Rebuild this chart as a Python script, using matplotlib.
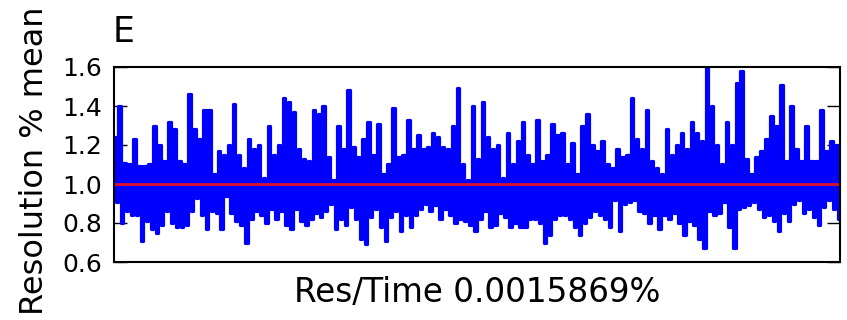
import matplotlib
matplotlib.use("Agg")
import matplotlib.pyplot as plt
import numpy as np

# Peak / trough of the ratio trace, read every ~5 px along the axis
upper_env = [
    1.24, 1.40, 1.11, 1.10, 1.23, 1.09, 1.09, 1.10, 1.30, 1.20, 1.12, 1.32, 1.28, 1.12, 1.10, 1.46, 1.28, 1.23,
    1.38, 1.38, 1.05, 1.17, 1.15, 1.20, 1.41, 1.15, 1.08, 1.23, 1.18, 1.20, 1.03, 1.30, 1.15, 1.20, 1.44, 1.42,
    1.37, 1.18, 1.13, 1.12, 1.38, 1.36, 1.40, 1.14, 1.02, 1.30, 1.18, 1.48, 1.19, 1.14, 1.23, 1.32, 1.15, 1.31,
    1.05, 1.10, 1.39, 1.14, 1.15, 1.33, 1.18, 1.25, 1.18, 1.19, 1.26, 1.24, 1.19, 1.18, 1.30, 1.49, 1.10, 1.02,
    1.40, 1.13, 1.42, 1.24, 1.18, 1.20, 1.03, 1.26, 1.10, 1.22, 1.32, 1.15, 1.10, 1.33, 1.12, 1.15, 1.31, 1.25,
    1.26, 1.10, 1.21, 1.05, 1.30, 1.36, 1.20, 1.17, 1.22, 1.10, 1.08, 1.18, 1.14, 1.15, 1.44, 1.23, 1.18, 1.38,
    1.12, 1.08, 1.05, 1.28, 1.15, 1.20, 1.26, 1.18, 1.32, 1.26, 1.22, 1.60, 1.40, 1.20, 1.10, 1.32, 1.20, 1.52,
    1.58, 1.13, 1.05, 1.14, 1.17, 1.23, 1.35, 1.30, 1.51, 1.12, 1.40, 1.18, 1.12, 1.30, 1.12, 1.12, 1.38, 1.17,
    1.22, 1.20,
]
lower_env = [
    0.91, 0.80, 0.86, 0.84, 0.84, 0.71, 0.81, 0.77, 0.75, 0.79, 0.86, 0.80, 0.78, 0.78, 0.79, 0.86, 0.93, 0.84,
    0.77, 0.86, 0.85, 0.77, 0.94, 0.85, 0.81, 0.79, 0.70, 0.82, 0.86, 0.84, 0.80, 0.87, 0.82, 0.86, 0.79, 0.77,
    0.87, 0.81, 0.79, 0.82, 0.85, 0.83, 0.86, 0.90, 0.77, 0.82, 0.79, 0.88, 0.82, 0.72, 0.69, 0.83, 0.87, 0.78,
    0.71, 0.83, 0.86, 0.76, 0.84, 0.78, 0.84, 0.87, 0.90, 0.86, 0.89, 0.82, 0.87, 0.84, 0.80, 0.82, 0.81, 0.79,
    0.76, 0.82, 0.86, 0.78, 0.79, 0.85, 0.83, 0.78, 0.80, 0.78, 0.78, 0.82, 0.82, 0.80, 0.70, 0.74, 0.82, 0.84,
    0.84, 0.82, 0.78, 0.74, 0.80, 0.83, 0.86, 0.84, 0.82, 0.78, 0.92, 0.76, 0.90, 0.91, 0.92, 0.86, 0.85, 0.80,
    0.84, 0.77, 0.84, 0.82, 0.85, 0.80, 0.74, 0.81, 0.79, 0.72, 0.67, 0.86, 0.84, 0.85, 0.91, 0.78, 0.67, 0.87,
    0.88, 0.89, 0.91, 0.87, 0.83, 0.84, 0.81, 0.76, 0.85, 0.81, 0.90, 0.92, 0.85, 0.87, 0.83, 0.79, 0.88, 0.92,
    0.87, 0.82,
]
mean_level = 1.0
y_ticks = [0.6, 0.8, 1.0, 1.2, 1.4, 1.6]
panel_label = "E"
x_label = "Res/Time 0.0015869%"
y_label = "Resolution % mean"

# alternate peak and trough so the trace zig-zags like the raw series
trace = np.column_stack((upper_env, lower_env)).ravel()
x = np.arange(len(trace))

fig = plt.figure(figsize=(8.47, 3.2), dpi=100)
ax = fig.add_axes([113.5 / 847, 58 / 320, 726.5 / 847, 195 / 320])

ax.plot(x, trace, color="#0000ff", linewidth=2.3, drawstyle="steps-mid")
ax.axhline(mean_level, color="#e0102a", linewidth=2.0)

ax.set_xlim(-0.5, len(trace) - 0.5)
ax.set_ylim(0.6, 1.6)
ax.set_yticks(y_ticks)
ax.set_yticklabels([f"{t:.1f}" for t in y_ticks])
ax.set_xticks([])
ax.tick_params(axis="y", direction="in", length=9.5, width=1.0,
               left=True, right=True, labelsize=18, pad=8)
for spine in ax.spines.values():
    spine.set_linewidth(1.5)

ax.set_xlabel(x_label, fontsize=23.5, labelpad=10)
ax.set_ylabel(y_label, fontsize=23, labelpad=8)
ax.yaxis.set_label_coords(-0.087, 0.52)
fig.text(113 / 847, 1 - 42 / 320, panel_label, fontsize=25, va="baseline", ha="left")

fig.savefig("out.png", dpi=100)
